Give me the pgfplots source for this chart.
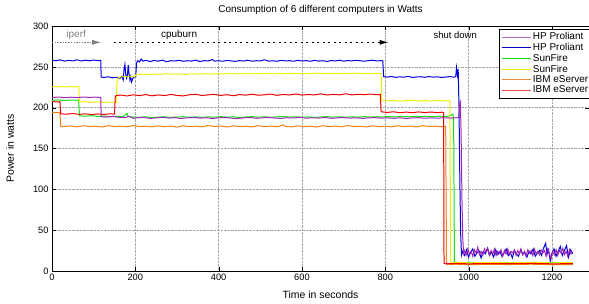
\documentclass[border=0pt]{standalone}
\usepackage{fontspec}
\setmainfont{Liberation Sans}
\usepackage{pgfplots}
\pgfplotsset{compat=1.18}
\usetikzlibrary{arrows.meta,calc}
\definecolor{cpurple}{RGB}{160,40,180}
\definecolor{cblue}{RGB}{0,0,225}
\definecolor{cgreen}{RGB}{20,225,20}
\definecolor{cyellow}{RGB}{240,240,0}
\definecolor{corange}{RGB}{240,128,20}
\definecolor{cred}{RGB}{240,0,0}
\begin{document}
\begin{tikzpicture}
\begin{axis}[
  name=ax,
  scale only axis,
  width=537bp, height=245bp,
  xmin=0, xmax=1289, ymin=0, ymax=300,
  xtick={0,200,...,1200}, ytick={0,50,...,300},
  /pgf/number format/assume math mode=true,
  /pgf/number format/1000 sep={},
  tick label style={font=\fontsize{9.3}{10}\selectfont},
  label style={font=\fontsize{10.5}{11}\selectfont},
  title style={font=\fontsize{10}{11}\selectfont, at={(axis description cs:0.5,1.041)}, anchor=center},
  title={Consumption of 6 different computers in Watts},
  xlabel={Time in seconds},
  ylabel={Power in watts},
  xlabel style={at={(axis description cs:0.5,-0.098)}, anchor=center},
  ylabel style={at={(axis description cs:-0.078,0.5)}, anchor=center},
  grid=major,
  major grid style={densely dotted, gray!70, line width=0.4pt},
  axis line style={black, line width=0.5pt},
  major tick length=4bp,
  tick style={black},
  legend style={font=\fontsize{10}{11}\selectfont, at={(axis description cs:1,1)}, anchor=north east, yshift=-3bp, xshift=3bp, draw=black, line width=0.4pt, inner sep=1.5bp, row sep=-2bp, cells={anchor=west}},
  legend image code/.code={\draw[#1] (0bp,0bp) -- (29bp,0bp);},
  every axis plot/.append style={line width=1pt},
]
% blue HP Proliant
\addplot[cblue, forget plot] coordinates {(0,258) (10,257.5) (20,258.5) (30,257) (40,258) (50,257.3) (60,258.6) (70,257.2) (80,258.1) (90,257.4) (100,258.3) (110,257.6) (117,258) (118,237.5) (125,237) (135,237.8) (145,236.6) (155,237.2) (163,236) (168,238.5) (171,234) (173,247) (175,253) (177,241) (179,236) (181,239) (183,252) (185,241) (187,234) (189,238) (191,231.5) (194,236) (197,237.5) (201,238) (203,255) (206,257.5) (210,256) (214,259.5) (218,257) (225,258) (235,256.5) (245,257.8) (255,257) (265,258.2) (275,256.3) (285,257.5) (295,257.2) (305,258) (315,256.8) (325,257.5) (335,257.1) (345,258.2) (355,256.5) (365,257.6) (375,257.2) (385,259) (390,257) (400,257.4) (410,256.9) (420,257.8) (430,257.2) (440,256.7) (450,257.6) (460,257.1) (470,258.1) (480,256.9) (490,257.5) (500,257.2) (510,258.6) (520,257) (530,257.4) (540,256.8) (550,258) (560,257.3) (570,257.5) (580,256.9) (590,257.9) (600,257.2) (610,257.6) (620,256.8) (630,257.9) (640,257.1) (650,257.5) (660,256.6) (670,257.7) (680,257.2) (690,258.1) (700,257) (710,257.6) (720,257.3) (730,258) (740,257.4) (750,256.9) (760,257.6) (770,258.1) (780,257.2) (790,257.6) (794,257.3) (796,238) (805,237.5) (815,238.2) (825,237.1) (835,237.8) (845,237.3) (855,238.4) (865,237) (875,237.6) (885,237.9) (895,237.2) (905,238.1) (915,237.4) (925,237.8) (935,237) (945,237.5) (955,238) (965,237.3) (969,238) (971,249) (973,240) (975,247) (977,200) (979,110) (981,45) (983,20) (985,24) (990,19) (995,26) (1000,17) (1005,23) (1010,27) (1015,18) (1020,22) (1025,25) (1030,16) (1035,24) (1040,21) (1045,28) (1050,19) (1055,23) (1060,17) (1065,26) (1070,20) (1075,24) (1080,18) (1085,22) (1090,27) (1095,19) (1100,23) (1105,16) (1110,25) (1115,21) (1120,18) (1125,26) (1130,20) (1135,23) (1140,17) (1145,24) (1150,21) (1155,27) (1160,18) (1165,22) (1170,25) (1175,19) (1180,28) (1185,34) (1188,20) (1192,26) (1196,12) (1200,22) (1205,27) (1210,18) (1215,24) (1220,30) (1225,19) (1230,25) (1235,31) (1240,17) (1245,26) (1250,21)};
% green SunFire
\addplot[cgreen, forget plot] coordinates {(0,209) (15,209.5) (30,208.8) (45,209.4) (60,209) (64,209.3) (66,190) (80,189.5) (95,190.2) (110,189.3) (125,189.8) (140,189) (155,189.6) (170,188.8) (180,193) (183,189) (195,188.5) (210,188.2) (225,188.8) (240,187.9) (255,188.4) (270,188.9) (285,188) (300,188.5) (315,189) (330,188.2) (345,188.7) (360,188.1) (375,188.8) (390,188.3) (405,189) (420,188.4) (435,188.8) (450,188) (465,188.6) (480,189.1) (495,188.3) (510,188.8) (525,188.2) (540,188.7) (555,189.2) (570,188.4) (585,188.9) (600,188.3) (615,188.8) (630,188.1) (645,188.7) (660,189) (675,188.4) (690,188.9) (705,188.2) (720,188.8) (735,188.4) (750,189) (765,188.5) (780,188.9) (795,188.6) (810,189.2) (825,188.7) (840,189.3) (855,188.8) (870,189.4) (885,188.9) (900,189.5) (915,189) (930,189.6) (945,189.2) (955,190) (962,192) (964,189) (966,11) (980,10) (1000,10.6) (1020,9.8) (1040,10.4) (1060,10) (1080,10.7) (1100,9.9) (1120,10.5) (1140,10) (1160,10.6) (1180,9.8) (1200,10.4) (1220,10.1) (1240,10.5) (1250,10)};
% yellow SunFire
\addplot[cyellow, forget plot] coordinates {(0,225.5) (15,226) (30,225.3) (45,225.8) (60,225.4) (64,225.7) (66,207) (80,207.4) (95,206.6) (110,207) (125,206.4) (140,206.8) (154,206.5) (156,230) (158,236) (162,237.5) (175,238) (190,237.6) (199,238.2) (202,240.5) (215,241) (230,240.6) (245,241.2) (260,240.8) (275,241.4) (290,240.9) (305,241.3) (320,240.7) (335,241.5) (350,241) (365,241.6) (380,241.1) (395,241.7) (410,241.2) (425,241.8) (440,241.3) (455,241.9) (470,241.4) (485,241.8) (500,241.5) (515,242) (530,241.4) (545,241.9) (560,241.5) (575,242.1) (590,241.6) (605,242) (620,241.5) (635,242.2) (650,241.7) (665,242.1) (680,241.6) (695,242) (710,241.7) (725,242.2) (740,241.6) (755,242) (770,241.7) (785,242.1) (790,241.8) (792,208.5) (805,208.2) (820,208.7) (835,208) (850,208.5) (865,208.9) (880,208.2) (895,208.6) (910,208.1) (925,208.7) (940,208.3) (953,208.6) (955,208) (957,10) (975,10.5) (1000,10) (1050,10.4) (1100,10) (1150,10.5) (1200,10) (1250,10.3)};
% orange IBM eServer
\addplot[corange, forget plot] coordinates {(0,194.5) (10,193.8) (19,194.2) (21,177.5) (30,176.8) (45,177.6) (60,176.5) (75,177.9) (90,176.9) (105,177.4) (120,176.3) (135,178) (150,176.8) (165,177.5) (180,176.6) (195,178.2) (210,176.9) (225,177.3) (240,176.4) (255,177.8) (270,176.7) (285,177.5) (300,176.2) (315,177.9) (330,176.8) (345,177.4) (360,176.5) (375,178.1) (390,176.9) (405,177.6) (420,176.3) (435,177.8) (450,176.7) (465,177.3) (480,176.4) (495,178) (510,176.8) (525,177.5) (540,176.6) (555,179) (560,177) (575,176.5) (590,177.8) (605,176.7) (620,177.4) (635,176.3) (650,177.9) (665,176.8) (680,177.5) (695,176.5) (710,178.1) (725,176.9) (740,177.3) (755,176.4) (770,177.8) (785,176.7) (800,177.4) (815,176.5) (830,177.9) (845,176.8) (860,177.5) (875,176.4) (890,178) (905,176.9) (920,177.4) (935,176.6) (945,177.2) (947,8) (970,8.3) (1000,7.8) (1050,8.2) (1100,7.9) (1150,8.3) (1200,7.8) (1250,8)};
% red IBM eServer
\addplot[cred, forget plot] coordinates {(0,207.5) (10,207) (19,207.3) (21,192.5) (35,192) (50,192.8) (65,191.8) (80,192.4) (95,191.6) (110,192.3) (125,191.8) (140,192.5) (150,192) (152,214.5) (165,215.5) (180,214.3) (195,215.8) (210,214.7) (225,216) (240,214.5) (255,215.6) (270,214.8) (285,216.2) (300,215) (315,214.4) (330,215.8) (345,216.4) (360,214.9) (375,215.7) (390,216.3) (405,215) (420,215.9) (435,214.6) (450,216.1) (465,215.3) (480,216.5) (495,215.2) (510,215.8) (525,216.6) (540,215.1) (555,216.2) (570,215.5) (585,216.8) (600,215.4) (615,216.1) (630,215.6) (645,216.9) (660,215.5) (675,216.3) (690,215.7) (705,217) (720,215.6) (735,216.4) (750,215.9) (765,216.7) (780,215.8) (788,216.2) (790,195) (805,194.2) (820,195) (835,193.8) (850,194.6) (865,193.9) (880,194.8) (895,194) (910,194.7) (925,193.8) (935,194.5) (940,194) (941,9) (970,9.2) (1000,8.8) (1050,9.2) (1100,8.9) (1150,9.3) (1200,8.8) (1250,9)};
% purple HP Proliant
\addplot[cpurple, forget plot] coordinates {(0,212.5) (15,213) (30,212.3) (45,212.8) (60,212.4) (75,213) (90,212.6) (105,212.9) (117,212.5) (118,189) (130,188.5) (145,189.2) (160,188.3) (175,187.8) (185,189.5) (195,187) (205,187.6) (220,188.1) (235,186.9) (250,187.5) (265,188.2) (280,187.3) (295,187.8) (310,186.7) (325,187.6) (340,188) (355,187.2) (370,187.7) (385,186.8) (400,187.5) (415,188.1) (430,187.2) (445,186.5) (460,187.6) (475,187.9) (490,187) (505,187.6) (520,188) (535,187.3) (550,186.9) (565,187.7) (580,187.4) (595,188) (610,187.1) (625,187.6) (640,187.3) (655,187.9) (670,187) (685,187.5) (700,188) (715,187.2) (730,187.6) (745,186.9) (760,187.5) (775,187.8) (790,187.2) (805,187.5) (820,187) (835,187.6) (850,186.8) (865,187.4) (880,187.7) (895,187.1) (910,187.5) (925,187.2) (940,187.6) (955,187.3) (970,187.5) (976,188) (978,200) (980,209) (982,170) (984,90) (986,40) (988,22) (990,25) (994,19) (998,27) (1002,21) (1006,24) (1010,18) (1014,26) (1018,22) (1022,29) (1026,20) (1030,24) (1034,19) (1038,27) (1042,23) (1046,28) (1050,20) (1054,25) (1058,21) (1062,27) (1066,19) (1070,24) (1074,22) (1078,26) (1082,18) (1086,25) (1090,21) (1094,27) (1098,20) (1102,24) (1106,22) (1110,26) (1114,19) (1118,25) (1122,21) (1126,27) (1130,20) (1134,24) (1138,18) (1142,26) (1146,22) (1150,25) (1154,19) (1158,27) (1162,21) (1166,24) (1170,20) (1174,26) (1178,22) (1182,25) (1186,18) (1190,27) (1194,21) (1198,15) (1202,24) (1206,20) (1210,26) (1214,19) (1218,25) (1222,22) (1226,28) (1230,20) (1234,24) (1238,18) (1242,26) (1246,21) (1250,23)};
% legend
\addlegendimage{cpurple!70, line width=0.8pt}
\addlegendentry{HP Proliant}
\addlegendimage{blue!75!black, line width=0.8pt}
\addlegendentry{HP Proliant}
\addlegendimage{cgreen, line width=0.8pt}
\addlegendentry{SunFire}
\addlegendimage{cyellow, line width=0.8pt}
\addlegendentry{SunFire}
\addlegendimage{corange!80!brown!90, line width=0.8pt}
\addlegendentry{IBM eServer}
\addlegendimage{cred!70, line width=0.8pt}
\addlegendentry{IBM eServer}
% annotations
\draw[gray, line width=0.7pt, dash pattern=on 1.5bp off 1.2bp, -{Latex[length=9bp,width=5bp]}] (axis cs:0,280) -- (axis cs:118,280);
\draw[black, line width=0.8pt, dash pattern=on 2bp off 3.5bp, -{Latex[length=9bp,width=5bp]}] (axis cs:148,280) -- (axis cs:808,280);
\node[gray, font=\fontsize{10}{11}\selectfont, anchor=center] at (axis cs:58,289) {iperf};
\node[black, font=\fontsize{10}{11}\selectfont, anchor=center] at (axis cs:305,289) {cpuburn};
\node[black, font=\fontsize{9.5}{11}\selectfont, anchor=center] at (axis cs:968,289) {shut down};
\end{axis}
\pgfresetboundingbox
\path[use as bounding box] ($(ax.south west)+(-52bp,-32.3bp)$) rectangle ($(ax.north east)+(0bp,26bp)$);
\end{tikzpicture}
\end{document}
